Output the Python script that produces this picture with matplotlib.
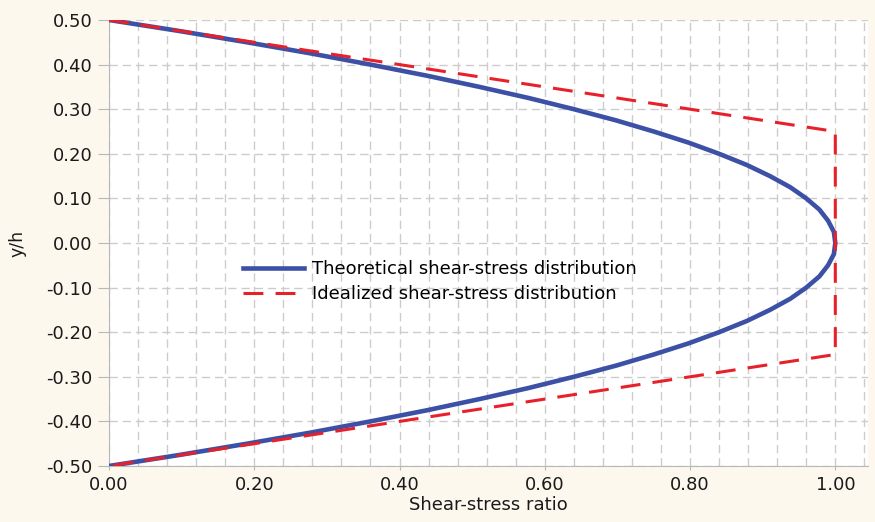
import numpy as np
from matplotlib import pyplot as plt
from matplotlib.ticker import MultipleLocator, FormatStrFormatter

# values
y_theory = [0.50, 0.475, 0.45, 0.425, 0.40, 0.375, 0.35, 0.325, 0.30, 0.275, 0.25,
            0.225, 0.20, 0.175, 0.15, 0.125, 0.1125, 0.10, 0.0875, 0.075, 0.0625,
            0.05, 0.0375, 0.025, 0.0125, 0.00,
            -0.0125, -0.025, -0.0375, -0.05, -0.0625, -0.075, -0.0875, -0.10, -0.1125,
            -0.125, -0.15, -0.175, -0.20, -0.225, -0.25, -0.275, -0.30, -0.325, -0.35,
            -0.375, -0.40, -0.425, -0.45, -0.475, -0.50]
x_theory = [0.000, 0.098, 0.190, 0.278, 0.360, 0.438, 0.510, 0.578, 0.640, 0.698, 0.750,
            0.798, 0.840, 0.878, 0.910, 0.938, 0.949, 0.960, 0.969, 0.978, 0.984,
            0.990, 0.994, 0.998, 0.999, 1.000,
            0.999, 0.998, 0.994, 0.990, 0.984, 0.978, 0.969, 0.960, 0.949,
            0.938, 0.910, 0.878, 0.840, 0.798, 0.750, 0.698, 0.640, 0.578, 0.510,
            0.438, 0.360, 0.278, 0.190, 0.098, 0.000]
y_ideal = [0.50, 0.25, -0.25, -0.50]
x_ideal = [0.00, 1.00, 1.00, 0.00]

label_theory = 'Theoretical shear-stress distribution'
label_ideal = 'Idealized shear-stress distribution'

plt.rcParams['font.family'] = ['DejaVu Sans']
plt.rcParams['axes.unicode_minus'] = False

fig = plt.figure(figsize=(8.75, 5.22), dpi=100, facecolor='#fcf8ee')
ax = fig.add_axes([0.1246, 0.1073, 0.8674, 0.8544])
ax.set_facecolor('white')

ax.plot(x_theory, y_theory, color='#3c50a5', lw=3.3, label=label_theory, zorder=3)
ax.plot(x_ideal, y_ideal, color='#e8202a', lw=2.2, dashes=(6.5, 4), label=label_ideal, zorder=4)

ax.set_xlim(0, 1.045)
ax.set_ylim(-0.5, 0.5)
ax.xaxis.set_major_locator(MultipleLocator(0.2))
ax.xaxis.set_minor_locator(MultipleLocator(0.04))
ax.yaxis.set_major_locator(MultipleLocator(0.1))
ax.xaxis.set_major_formatter(FormatStrFormatter('%.2f'))
ax.yaxis.set_major_formatter(FormatStrFormatter('%.2f'))

ax.grid(True, which='both', axis='x', color='#cccccc', lw=1, dashes=(6, 3.5))
ax.grid(True, which='major', axis='y', color='#cccccc', lw=1, dashes=(6, 3.5))
ax.set_axisbelow(True)

for s in ['top', 'right']:
    ax.spines[s].set_visible(False)
for s in ['left', 'bottom']:
    ax.spines[s].set_color('#b8b8b8')

ax.tick_params(axis='y', which='major', length=8, color='#b8b8b8',
               labelsize=13, labelcolor='#1a1a1a', pad=4)
ax.tick_params(axis='x', which='major', length=3, color='#b8b8b8',
               labelsize=13, labelcolor='#1a1a1a', pad=4)
ax.tick_params(axis='x', which='minor', length=0)

ax.set_xlabel('Shear-stress ratio', fontsize=13, color='#1a1a1a', labelpad=2)
ax.set_ylabel('y/h', fontsize=12.5, color='#1a1a1a', labelpad=14)

ax.legend(loc='center left', bbox_to_anchor=(0.1765, 0.413), frameon=False,
          borderpad=0, borderaxespad=0,
          fontsize=13, handlelength=3.4, handletextpad=0.4, labelspacing=0.4)

fig.savefig('out.png', dpi=100, facecolor=fig.get_facecolor())
